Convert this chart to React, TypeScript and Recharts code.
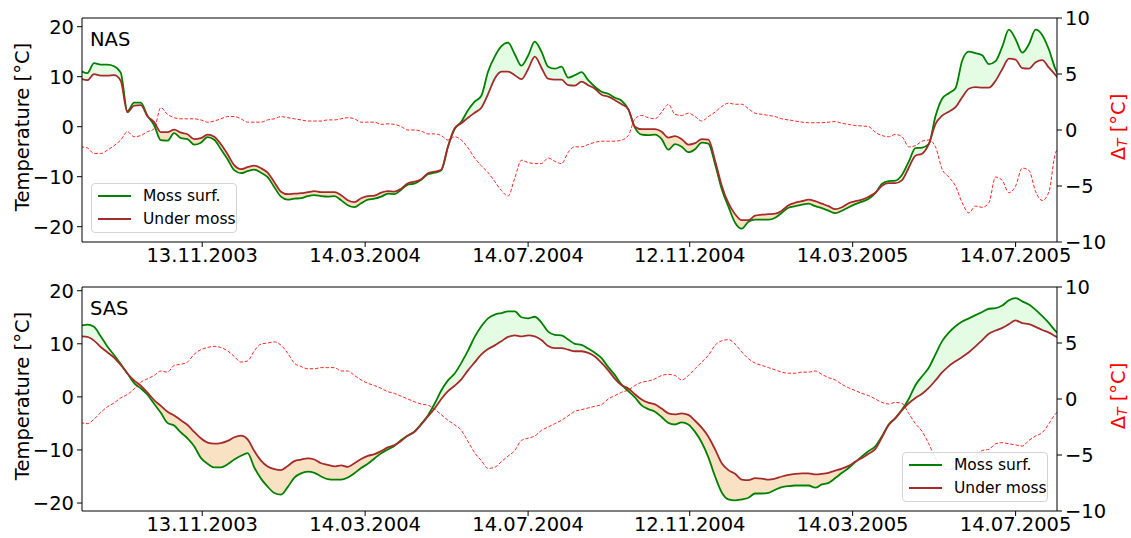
import React from "react";
import { ComposedChart, Line, Area, XAxis, YAxis, ReferenceLine, Legend } from "recharts";

// sample spacing: every 5 days, day 0 = 14.08.2003
const days = Array.from({ length: 149 }, (_, i) => i * 5);
const tickLabels = ["13.11.2003", "14.03.2004", "14.07.2004", "12.11.2004", "14.03.2005", "14.07.2005"];
const startUtc = Date.UTC(2003, 7, 14);
const toDay = (s: string) => {
  const [d, m, y] = s.split(".").map(Number);
  return Math.round((Date.UTC(y, m - 1, d) - startUtc) / 86400000);
};
const tickDays = tickLabels.map(toDay);

const nasMoss = [
  11.2, 10.7, 12.7, 12.4, 12.4, 12.1, 10.8, 3.1, 4.8, 4.8,
  2.2, 0.3, -2.7, -2.8, -1.3, -2.3, -2.5, -3.6, -3.2, -2.1,
  -2.6, -4.5, -6.5, -8.7, -9.3, -8.9, -8.6, -9.2, -10.1, -12.1,
  -14.0, -14.6, -14.4, -14.3, -13.9, -13.7, -13.9, -14.0, -13.9, -14.7,
  -15.7, -16.1, -15.3, -14.6, -14.4, -14.0, -13.4, -13.5, -12.6, -11.6,
  -11.4, -10.6, -9.5, -9.2, -8.7, -4.0, -0.5, 1.0, 3.3, 5.0,
  6.2, 11.0, 14.0, 16.1, 16.8, 14.5, 12.2, 14.2, 17.0, 15.0,
  12.0, 11.6, 12.0, 9.8, 10.3, 10.9, 9.3, 8.0, 7.0, 6.6,
  5.8, 5.2, 3.5, -0.2, -1.6, -1.7, -1.6, -2.5, -4.6, -3.5,
  -4.0, -5.1, -4.5, -3.2, -3.4, -7.5, -12.5, -16.0, -19.2, -20.4,
  -19.0, -18.6, -18.6, -18.6, -18.2, -17.2, -16.2, -15.9, -15.6, -15.4,
  -15.9, -16.3, -16.8, -17.3, -16.8, -16.1, -15.5, -15.0, -14.4, -13.3,
  -11.4, -10.9, -10.8, -9.6, -7.0, -4.3, -4.2, -3.5, 2.1, 5.6,
  6.7, 7.7, 13.2, 15.0, 14.7, 14.3, 12.5, 13.1, 16.0, 19.4,
  17.5, 14.8, 16.5, 19.4, 18.3, 15.4, 11.4, 9.5, 10.7,
];
const nasUnder = [
  9.6, 9.3, 10.5, 10.2, 10.2, 10.3, 9.2, 2.9, 4.2, 4.3,
  2.1, 0.9, -1.1, -1.1, -0.6, -1.2, -1.5, -2.5, -2.3, -1.6,
  -2.0, -3.5, -5.5, -7.7, -8.5, -8.1, -7.8, -8.3, -9.2, -11.1,
  -13.0, -13.5, -13.4, -13.3, -13.1, -12.9, -13.1, -13.1, -13.1, -13.7,
  -14.7, -15.1, -14.3, -13.9, -13.8, -13.2, -12.9, -13.0, -12.4, -11.3,
  -11.0, -10.5, -9.3, -9.0, -8.6, -4.0, -0.3, 0.7, 1.8, 2.8,
  3.8, 6.5, 9.6, 11.0, 11.0, 10.3, 9.5, 11.5, 14.0, 11.8,
  9.6, 9.4, 9.4, 8.3, 8.2, 9.0, 8.3, 7.6, 6.4, 6.0,
  5.3, 4.5, 3.5, 0.0, -0.5, -0.5, -0.5, -1.0, -2.2, -1.9,
  -2.5, -3.6, -3.3, -2.5, -2.6, -6.8, -11.8, -15.3, -17.5, -18.7,
  -18.7, -17.8, -17.6, -17.5, -17.4, -16.8, -15.7, -15.2, -14.9, -14.6,
  -14.9, -15.4, -15.9, -16.5, -16.1, -15.3, -14.9, -14.6, -14.0, -13.2,
  -11.8, -11.3, -11.3, -10.7, -8.2, -5.8, -5.4, -3.5, 0.5, 2.2,
  3.0, 3.9, 5.9, 7.6, 7.9, 7.8, 7.8, 9.2, 11.5, 13.6,
  13.4, 11.7, 11.6, 12.9, 13.3, 11.8, 10.3, 8.8, 9.4,
];
const nasDelta = [
  -1.5, -1.6, -2.1, -2.1, -1.8, -1.4, -0.9, -0.15, -0.6, -0.5,
  -0.15, 0.1, 2.0, 1.4, 1.1, 1.0, 1.0, 1.0, 0.9, 0.7,
  0.8, 1.0, 1.2, 1.2, 1.0, 0.7, 0.7, 0.7, 0.9, 1.0,
  1.2, 1.1, 1.0, 0.9, 0.8, 0.8, 0.8, 0.9, 0.9, 1.0,
  1.1, 1.0, 0.7, 0.7, 0.7, 0.5, 0.55, 0.5, 0.3, 0.0,
  0.0, -0.1, -0.35, -0.35, -0.5, -0.9, -0.6, -0.9, -1.6, -2.5,
  -3.2, -3.8, -4.6, -5.4, -5.9, -4.3, -2.7, -2.9, -3.0, -3.0,
  -2.5, -2.8, -3.0, -2.0, -1.5, -1.5, -1.3, -1.1, -1.0, -1.0,
  -1.0, -0.9, -0.5, 1.0, 1.3, 1.1, 1.0, 1.6, 2.3, 1.4,
  1.3, 1.5, 1.2, 0.8, 1.2, 1.6, 2.1, 2.4, 2.3, 2.3,
  1.9, 1.5, 1.4, 1.3, 1.2, 1.0, 0.9, 0.8, 0.7, 0.65,
  0.65, 0.65, 0.7, 0.75, 0.6, 0.5, 0.4, 0.36, 0.3, -0.2,
  -0.5, -0.6, -0.4, -0.6, -1.5, -1.4, -1.0, -0.9, -1.5, -3.5,
  -4.2, -5.0, -6.5, -7.4, -6.8, -6.9, -6.5, -4.2, -4.5, -5.6,
  -5.0, -3.4, -3.6, -5.5, -6.3, -5.5, -2.0, -1.4, -1.8,
];

const sasMoss = [
  13.4, 13.6, 13.2, 11.4, 9.5, 7.9, 6.2, 4.4, 2.6, 1.6,
  0.4, -1.3, -3.0, -4.9, -5.4, -6.7, -7.8, -9.3, -11.5, -12.6,
  -13.3, -13.3, -12.7, -11.8, -11.1, -10.6, -13.3, -15.4, -16.9, -18.1,
  -18.4, -17.0, -15.2, -14.4, -14.1, -14.3, -15.0, -15.5, -15.6, -15.6,
  -15.2, -14.4, -13.4, -12.6, -11.6, -10.6, -9.9, -9.2, -8.1, -7.3,
  -6.5, -5.1, -3.5, -1.3, 1.2, 3.1, 4.4, 6.4, 8.7, 11.3,
  13.3, 14.8, 15.5, 15.8, 16.1, 16.1, 15.0, 14.8, 15.1, 14.0,
  12.3, 11.7, 11.6, 10.8, 10.0, 9.8, 9.1, 8.3, 7.3, 5.6,
  4.1, 2.3, 1.1, -0.1, -1.6, -2.3, -2.8, -3.8, -4.9, -5.2,
  -4.8, -5.2, -6.6, -8.6, -11.4, -15.0, -18.0, -19.3, -19.5, -19.3,
  -19.0, -18.2, -18.2, -18.1, -17.5, -17.0, -16.8, -16.7, -16.7, -16.7,
  -17.1, -16.5, -16.2, -15.3, -14.3, -13.4, -12.3, -11.2, -10.2, -9.3,
  -7.4, -5.2, -4.0, -2.4, -0.4, 2.2, 3.9, 5.5, 8.0, 10.5,
  12.1, 13.3, 14.2, 14.8, 15.4, 16.0, 16.6, 16.7, 17.2, 18.2,
  18.6, 18.0, 17.4, 16.4, 15.2, 13.9, 12.4, 11.4, 10.8,
];
const sasUnder = [
  11.4, 11.3, 10.6, 9.4, 8.4, 7.4, 6.0, 4.4, 3.1, 2.1,
  0.8, -0.6, -1.7, -2.8, -3.5, -4.4, -5.3, -6.6, -7.8, -8.6,
  -8.8, -8.7, -8.3, -7.6, -7.3, -8.0, -10.2, -12.0, -13.1, -13.6,
  -13.8, -13.0, -12.1, -11.8, -11.6, -11.8, -12.5, -12.8, -13.1, -12.9,
  -13.2, -12.5, -11.7, -11.1, -10.8, -10.2, -9.5, -9.1, -8.3, -7.3,
  -6.6, -5.2, -3.7, -2.2, -0.4, 1.1, 2.1, 3.3, 5.0, 6.5,
  8.0, 9.0, 9.7, 10.5, 11.3, 11.6, 11.4, 11.6, 11.4, 10.7,
  9.6, 9.2, 9.2, 8.9, 8.6, 8.6, 8.3, 7.6, 6.4, 5.0,
  3.4, 2.2, 1.6, 0.5, -0.5, -1.1, -1.4, -2.2, -3.1, -3.3,
  -3.1, -3.4, -4.5, -5.8, -7.5, -9.9, -12.5, -13.8, -14.5, -15.6,
  -15.7, -15.3, -15.4, -15.6, -15.4, -15.0, -14.7, -14.5, -14.4, -14.4,
  -14.6, -14.5, -14.3, -13.9, -13.5, -13.0, -12.2, -11.5, -10.7, -9.8,
  -7.6, -5.3, -4.0, -2.5, -1.2, -0.2, 0.6, 1.7, 3.1, 4.6,
  5.8, 6.7, 7.5, 8.4, 9.5, 10.7, 11.9, 12.5, 13.0, 13.7,
  14.4, 13.9, 13.7, 13.2, 12.6, 12.1, 11.4, 10.8, 10.3,
];
const sasDelta = [
  -2.1, -2.2, -1.8, -1.2, -0.7, -0.35, 0.1, 0.4, 0.9, 1.5,
  1.8, 2.1, 2.5, 2.4, 3.0, 3.1, 3.3, 4.0, 4.4, 4.6,
  4.7, 4.6, 4.3, 3.8, 3.3, 3.4, 4.3, 4.9, 5.0, 5.1,
  4.8, 4.1, 3.2, 2.9, 2.7, 2.7, 2.8, 2.8, 2.8, 2.5,
  2.5, 2.1, 1.7, 1.4, 1.2, 0.95, 0.65, 0.5, 0.25, 0.0,
  -0.25, -0.45, -0.55, -0.9, -1.4, -1.9, -2.3, -2.8, -3.8, -4.8,
  -5.5, -6.2, -6.1, -5.6, -5.1, -4.6, -3.7, -3.5, -3.3, -2.8,
  -2.5, -2.2, -1.9, -1.5, -1.1, -0.95, -0.8, -0.65, -0.5, 0.0,
  0.3, 0.6, 0.8, 1.2, 1.5, 1.6, 1.8, 2.1, 2.2, 2.1,
  1.7, 2.1, 2.7, 3.3, 3.9, 4.8, 5.2, 5.3, 4.9, 4.2,
  3.6, 3.2, 3.0, 2.8, 2.6, 2.4, 2.3, 2.3, 2.4, 2.4,
  2.5, 2.2, 1.9, 1.7, 1.3, 1.0, 0.75, 0.5, 0.3, 0.0,
  -0.3, -0.45, -0.3, -0.4, -1.3, -2.2, -2.9, -4.0, -5.3, -6.2,
  -6.3, -6.1, -5.8, -5.6, -5.0, -4.6, -4.5, -4.0, -3.9, -4.0,
  -4.1, -4.2, -3.7, -3.3, -3.0, -2.2, -1.3, -1.0, -1.1,
];

const FONT = "DejaVu Sans";
const FS = 19.5;
const minus = (v: number) => String(v).replace("-", "\u2212");

function LegendBox() {
  const row = (color: string, text: string, y: number) => (
    <div style={{ position: "absolute", left: 0, top: y, width: "100%", height: 0 }}>
      <div style={{ position: "absolute", left: 6, top: -1, width: 33, height: 2, background: color }} />
      <div style={{ position: "absolute", left: 51, top: -10, lineHeight: "20px", fontSize: 15.5, whiteSpace: "nowrap" }}>{text}</div>
    </div>
  );
  return (
    <div style={{ position: "relative", width: 146, height: 50, boxSizing: "border-box", border: "1px solid #d5d5d5", borderRadius: 4, background: "rgba(255,255,255,0.85)", fontFamily: FONT, color: "#000" }}>
      {row("#008000", "Moss surf.", 12)}
      {row("#a52a2a", "Under moss", 35)}
    </div>
  );
}

type PanelProps = {
  name: string;
  moss: number[];
  under: number[];
  delta: number[];
  tDomain: [number, number];
  height: number;
  marginTop: number;
  xHeight: number;
  legendLeft: number;
  legendTop: number;
};

function Panel(p: PanelProps) {
  const rows = days.map((day, i) => ({
    day,
    moss: p.moss[i],
    under: p.under[i],
    delta: p.delta[i],
    warm: p.moss[i] > p.under[i] ? [p.under[i], p.moss[i]] : [p.under[i], p.under[i]],
    cold: p.moss[i] < p.under[i] ? [p.moss[i], p.under[i]] : [p.under[i], p.under[i]],
  }));
  const midY = p.marginTop + (p.height - p.marginTop - p.xHeight) / 2 - 3;
  const tick = { fill: "#000", fontSize: FS, fontFamily: FONT };

  const leftLabel = () => (
    <g>
      <text x={22} y={midY} transform={`rotate(-90 22 ${midY})`} textAnchor="middle" dominantBaseline="central" fontSize={FS} fontFamily={FONT} fill="#000">
        Temperature [°C]
      </text>
      <text x={90} y={p.marginTop + 21} dominantBaseline="central" fontSize={FS} fontFamily={FONT} fill="#000">
        {p.name}
      </text>
    </g>
  );
  const rightLabel = () => (
    <text x={1118} y={midY} transform={`rotate(-90 1118 ${midY})`} textAnchor="middle" dominantBaseline="central" fontSize={FS} fontFamily={FONT} fill="#ff0000">
      <tspan>Δ</tspan>
      <tspan dy={4} fontSize={14} fontStyle="italic">T</tspan>
      <tspan dy={-4}> [°C]</tspan>
    </text>
  );

  return (
    <ComposedChart width={1131} height={p.height} data={rows} margin={{ top: p.marginTop, right: 0, bottom: 0, left: 0 }}>
      <XAxis
        dataKey="day"
        type="number"
        domain={[1, 731]}
        allowDataOverflow
        ticks={tickDays}
        interval={0}
        tickFormatter={(v) => tickLabels[tickDays.indexOf(v)] ?? ""}
        height={p.xHeight}
        tickSize={5}
        tickMargin={1}
        tick={tick}
        tickLine={{ stroke: "#000" }}
        axisLine={{ stroke: "#000" }}
      />
      <YAxis
        yAxisId="t"
        domain={p.tDomain}
        allowDataOverflow
        ticks={[-20, -10, 0, 10, 20]}
        interval={0}
        tickFormatter={minus}
        width={82}
        tickSize={5}
        tickMargin={3}
        tick={tick}
        tickLine={{ stroke: "#000" }}
        axisLine={{ stroke: "#000" }}
        label={{ content: leftLabel }}
      />
      <YAxis
        yAxisId="d"
        orientation="right"
        domain={[-10, 10]}
        allowDataOverflow
        ticks={[-10, -5, 0, 5, 10]}
        interval={0}
        tickFormatter={minus}
        width={74}
        tickSize={5}
        tickMargin={3}
        tick={tick}
        tickLine={{ stroke: "#000" }}
        axisLine={{ stroke: "#000" }}
        label={{ content: rightLabel }}
      />
      <ReferenceLine yAxisId="d" y={10} stroke="#000" strokeWidth={1} />
      <Area yAxisId="t" dataKey="warm" type="linear" stroke="none" fill="#e4fbe4" fillOpacity={1} isAnimationActive={false} />
      <Area yAxisId="t" dataKey="cold" type="linear" stroke="none" fill="#f9e2c4" fillOpacity={1} isAnimationActive={false} />
      <Line yAxisId="t" dataKey="moss" type="monotone" stroke="#008000" strokeWidth={1.8} dot={false} isAnimationActive={false} />
      <Line yAxisId="t" dataKey="under" type="monotone" stroke="#a52a2a" strokeWidth={1.8} dot={false} isAnimationActive={false} />
      <Line yAxisId="d" dataKey="delta" type="monotone" stroke="#ff0000" strokeOpacity={0.85} strokeWidth={1} strokeDasharray="3.5 1.8" dot={false} isAnimationActive={false} />
      <Legend
        layout="vertical"
        align="center"
        verticalAlign="middle"
        content={() => <LegendBox />}
        wrapperStyle={{ left: p.legendLeft, top: p.legendTop, width: 146, height: 50 }}
      />
    </ComposedChart>
  );
}

export default function App() {
  return (
    <div style={{ position: "absolute", left: 0, top: 0, width: 1131, height: 538, background: "#fff", fontFamily: FONT }}>
      <div style={{ position: "absolute", left: 0, top: 0 }}>
        <Panel name="NAS" moss={nasMoss} under={nasUnder} delta={nasDelta} tDomain={[-23.06, 21.74]} height={268} marginTop={18} xHeight={26} legendLeft={91} legendTop={183} />
      </div>
      <div style={{ position: "absolute", left: 0, top: 268 }}>
        <Panel name="SAS" moss={sasMoss} under={sasUnder} delta={sasDelta} tDomain={[-21.5, 20.7]} height={270} marginTop={19} xHeight={27} legendLeft={902} legendTop={184} />
      </div>
    </div>
  );
}
